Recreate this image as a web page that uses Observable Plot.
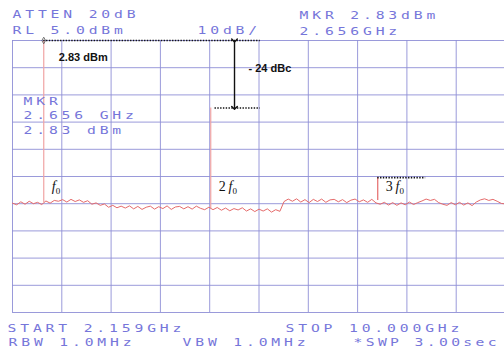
<!DOCTYPE html>
<html>
<head>
<meta charset="utf-8">
<script src="https://cdn.jsdelivr.net/npm/d3@7"></script>
<script src="https://cdn.jsdelivr.net/npm/@observablehq/plot@0.6"></script>
<style>
  html, body { margin: 0; padding: 0; background: #ffffff; }
</style>
</head>
<body>
<div id="chart"></div>
<script>
// ---- Analyzer settings (from screen readout) ----
const startGHz = 2.159;
const stopGHz = 10.0;
const refLevelDbm = 5.0;
const dbPerDiv = 10;
const divisions = 10;

// ---- Readout texts ----
const headerLeft = ["ATTEN 20dB", "RL 5.0dBm"];
const headerScale = ["10dB/"];
const headerMarker = ["MKR 2.83dBm", "2.656GHz"];
const markerBlock = ["MKR", "2.656 GHz", "2.83 dBm"];
const footerStart = ["START 2.159GHz"];
const footerStop = ["STOP 10.000GHz"];
const footerBw = ["RBW 1.0MHz", "VBW 1.0MHz", "*SWP 3.00sec"];

// ---- Harmonic spikes (GHz, peak dBm, floor dBm at base) ----
const spikeLabels = ["f0", "2f0", "3f0"];
const spikeGHz = [2.656, 5.312, 7.968];
const spikePeakDbm = [5.0, -19.8, -45.4];
const spikeBaseDbm = [-54.6, -56.8, -53.8];

// ---- Noise floor trace (dBm), uniform sweep points from START to STOP ----
const noiseDbm = [
  -54.8,-55.4,-54.3,-55.2,-54.1,-55.0,-54.5,-55.3,
  -54.0,-54.8,-53.8,-54.1,-53.5,-54.4,-53.4,-54.2,-53.6,-54.5,-53.9,-55.2,-54.7,
  -55.6,-55.1,-56.3,-55.6,-56.5,-55.9,
  -56.6,-55.8,-56.9,-56.0,-57.1,-56.3,-55.9,-57.0,-56.1,-56.8,-55.8,-57.1,-56.2,-56.0,-56.9,-56.1,-57.0,-55.9,-56.7,-57.2,-56.3,
  -57.2,-56.4,-57.4,-56.6,-57.6,-56.8,-57.3,-56.5,-57.7,-56.9,-57.9,-57.0,-57.7,-56.9,-58.1,-57.2,-57.8,
  -54.2,-53.3,-54.1,-53.2,-54.4,-53.5,-54.6,-53.4,-54.2,-53.3,-54.5,-53.6,-53.4,-54.3,-53.5,-54.6,-53.7,-53.3,-54.3,-53.6,-54.5,-53.4,-54.7,
  -55.2,-54.5,-55.5,-54.6,-55.6,-54.7,-55.4,-54.4,-55.3,-54.6,-54.0,-53.3,-53.8,-53.4,-54.6,-55.2,-55.6,-54.6,-55.4,-54.5,-55.5,-54.7,-55.7,-54.4,-53.6,-53.2,-53.8,-53.4,-54.1,-54.9,-55.1
];

// ---- Annotation values ----
const carrierText = ["2.83 dBm"];
const dbcText = ["- 24 dBc"];
const annotEndGHz = 6.10;    // right end of the reference dotted lines
const arrowGHz = 5.69;       // position of the double arrow
const lowerStartGHz = 5.38;  // left end of the -24 dBc dotted line
const thirdEndGHz = 8.73;    // right end of the 3f0 dotted line

// ---- Derived tables ----
const bottomDbm = refLevelDbm - dbPerDiv * divisions;
const stepGHz = (stopGHz - startGHz) / (noiseDbm.length - 1);
const trace = noiseDbm.map((p, i) => ({f: startGHz + i * stepGHz, p}));
const spikes = spikeGHz.map((f, i) => ({f, peak: spikePeakDbm[i], base: spikeBaseDbm[i], label: spikeLabels[i]}));
const gridX = d3.range(divisions + 1).map(i => startGHz + i * (stopGHz - startGHz) / divisions);
const gridY = d3.range(divisions + 1).map(i => bottomDbm + i * dbPerDiv);

const blue = "#7676da";
const gridColor = "#8e8ed6";
const traceColor = "#e56a6a";

const readout = (lines, dx, dy0, pitch, desc = "readout") => lines.map((t, i) =>
  Plot.text([t], {
    text: d => d, frameAnchor: "top-left", dx, dy: dy0 + i * pitch,
    textAnchor: "start", lineAnchor: "bottom",
    fontFamily: "DejaVu Sans Mono", fontSize: 10.5, fill: blue, ariaDescription: desc
  }));

const svg = Plot.plot({
  width: 504,
  height: 351,
  marginLeft: 12,
  marginRight: -1,
  marginTop: 40,
  marginBottom: 39,
  style: {background: "#ffffff", overflow: "visible"},
  x: {domain: [startGHz, stopGHz], axis: null},
  y: {domain: [bottomDbm, refLevelDbm], axis: null},
  marks: [
    Plot.ruleX(gridX, {stroke: gridColor, strokeWidth: 0.9}),
    Plot.ruleY(gridY, {stroke: gridColor, strokeWidth: 0.9}),
    // spikes
    Plot.ruleX(spikes.slice(0, 2), {x: "f", y1: "base", y2: "peak", stroke: "#f0a4a4", strokeWidth: 1.2}),
    Plot.ruleX(spikes.slice(2), {x: "f", y1: "base", y2: "peak", stroke: traceColor, strokeWidth: 1.2}),
    // noise trace
    Plot.line(trace, {x: "f", y: "p", stroke: traceColor, strokeWidth: 1}),
    // marker diamond
    Plot.dot(spikes.slice(0, 1), {x: "f", y: "peak", symbol: "diamond", r: 2, stroke: "#555", strokeWidth: 0.8}),
    // dotted annotation lines
    Plot.ruleY(spikes.slice(0, 1), {y: "peak", x1: "f", x2: () => annotEndGHz, stroke: "#111", strokeWidth: 1.6, strokeDasharray: "1.4,1.4"}),
    Plot.ruleY(spikes.slice(1, 2), {y: "peak", x1: () => lowerStartGHz, x2: () => annotEndGHz, stroke: "#111", strokeWidth: 1.6, strokeDasharray: "1.4,1.4"}),
    Plot.ruleY(spikes.slice(2), {y: "peak", x1: "f", x2: () => thirdEndGHz, stroke: "#111", strokeWidth: 1.6, strokeDasharray: "1.4,1.4"}),
    // double arrow
    Plot.link([0], {x1: () => arrowGHz, x2: () => arrowGHz, y1: () => spikePeakDbm[0], y2: () => spikePeakDbm[1],
      stroke: "#111", strokeWidth: 1.4, markerStart: "arrow", markerEnd: "arrow"}),
    // annotation texts
    Plot.text(carrierText, {text: d => d, x: () => spikeGHz[0], frameAnchor: "top", dx: 15, dy: 20,
      textAnchor: "start", lineAnchor: "bottom", fontFamily: "Liberation Sans, Arial, sans-serif",
      fontWeight: "bold", fontSize: 11, fill: "#111"}),
    Plot.text(dbcText, {text: d => d, x: () => arrowGHz, frameAnchor: "top", dx: 14, dy: 31,
      textAnchor: "start", lineAnchor: "bottom", fontFamily: "Liberation Sans, Arial, sans-serif",
      fontWeight: "bold", fontSize: 11, fill: "#111"}),
    // harmonic labels
    Plot.text(spikes, {x: "f", text: "label", frameAnchor: "top", dx: 8, dy: 150,
      textAnchor: "start", lineAnchor: "bottom", fontFamily: "Liberation Serif, Times New Roman, serif",
      fontSize: 14, fill: "#111", ariaDescription: "harmonic"}),
    // analyzer readouts
    ...readout(headerLeft, 0, -23, 16),
    ...readout(headerScale, 185, -7, 0),
    ...readout(headerMarker, 287, -22, 16),
    ...readout(markerBlock, 11, 64, 14.5),
    ...readout(footerStart, -5, 291, 0),
    ...readout([footerBw[0]], -4, 305, 0),
    ...readout([footerBw[1]], 170, 305, 0),
    ...readout([footerBw[2]], 341, 305, 0, "readout-tight"),
    ...readout(footerStop, 273, 291, 0)
  ]
});

// wide plotter-style lettering for the analyzer readouts
const sx = 1.4;
function widen(selector, spacing) {
  d3.select(svg).selectAll(selector).each(function() {
    const t = d3.select(this);
    const tr = t.attr("transform");
    if (tr) {
      t.attr("transform", tr + ` scale(${sx},1)`);
    } else {
      const x = +t.attr("x") || 0, y = +t.attr("y") || 0;
      t.attr("x", null).attr("y", null).attr("transform", `translate(${x},${y}) scale(${sx},1)`);
    }
    const dxa = t.attr("dx");
    if (dxa) t.attr("dx", parseFloat(dxa) / sx);
    t.attr("letter-spacing", spacing);
  });
}
widen('g[aria-description="readout"] text', 2.75);
widen('g[aria-description="readout-tight"] text', 2.4);

// harmonic labels: italic f with subscript 0
d3.select(svg).selectAll('g[aria-description="harmonic"] text').each(function() {
  const t = d3.select(this);
  const s = t.text();
  const coef = s.slice(0, s.indexOf("f"));
  t.text(null);
  if (coef) t.append("tspan").text(coef + "\u2009");
  t.append("tspan").attr("font-style", "italic").text("f");
  t.append("tspan").attr("font-size", 9).attr("dy", 3).text("0");
});

document.getElementById("chart").appendChild(svg);
</script>
</body>
</html>
